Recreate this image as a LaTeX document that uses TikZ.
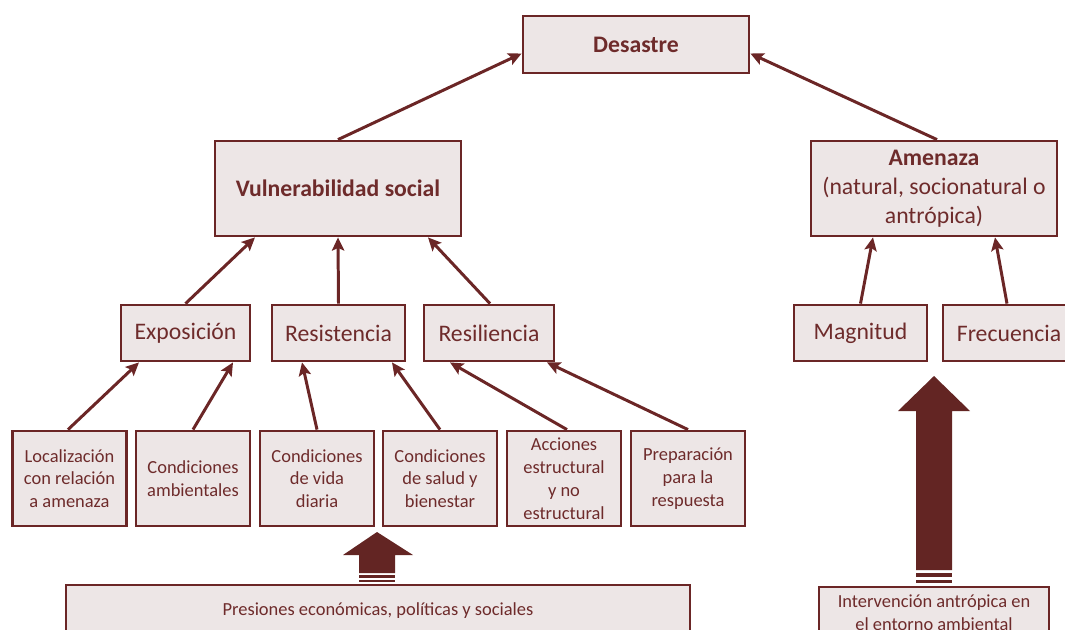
\documentclass[tikz,border=0pt]{standalone}
\usepackage{fontspec}
\setmainfont{Carlito}
\usetikzlibrary{arrows.meta}
\definecolor{wine}{HTML}{6B2626}
\definecolor{winetext}{HTML}{6E2B2B}
\definecolor{bigarrow}{HTML}{632523}
\definecolor{boxfill}{HTML}{EDE6E6}
\newcommand{\pxl}{0.02cm}
\tikzset{
  box/.style={draw=wine, fill=boxfill, line width=1.6pt, inner sep=0pt,
    align=center, text=winetext},
  bigfont/.style={font=\fontsize{13.5}{16.5}\selectfont},
  smallfont/.style={font=\fontsize{10.5}{13}\selectfont},
  link/.style={draw=wine, line width=1.7pt,
    -{Stealth[length=7.5pt, width=7pt, inset=1.5pt]}},
}
\begin{document}
\begin{tikzpicture}[x=0.02cm, y=-0.02cm]
\useasboundingbox (0,0) rectangle (1065,629);
\clip (0,0) rectangle (1065,629);

% top level
\node[box, bigfont, minimum width=226*\pxl, minimum height=57*\pxl] (des) at (636,44.5) {\textbf{Desastre}};
\node[box, bigfont, minimum width=246*\pxl, minimum height=95*\pxl] (vul) at (338,188.5) {\textbf{Vulnerabilidad social}};
\node[box, bigfont, minimum width=246*\pxl, minimum height=95*\pxl] (ame) at (934,188.5)
  {\textbf{Amenaza}\\(natural, socionatural o\\antrópica)};

% middle level
\node[box, bigfont, minimum width=129*\pxl, minimum height=56*\pxl] (exp) at (185.5,333) {Exposición};
\node[box, bigfont, minimum width=133*\pxl, minimum height=56*\pxl] (res) at (338.5,333) {Resistencia};
\node[box, bigfont, minimum width=130*\pxl, minimum height=56*\pxl] (resil) at (489,333) {Resiliencia};
\node[box, bigfont, minimum width=133*\pxl, minimum height=56*\pxl] (mag) at (860.5,333) {Magnitud};
\node[box, bigfont, minimum width=132*\pxl, minimum height=56*\pxl] (fre) at (1009,333) {Frecuencia};

% bottom level
\tikzset{leaf/.style={box, smallfont, minimum width=114*\pxl, minimum height=95*\pxl}}
\node[leaf] (loc) at (69.5,478.5) {Localización\\con relación\\a amenaza};
\node[leaf] (amb) at (193,478.5) {Condiciones\\ambientales};
\node[leaf] (vid) at (317,478.5) {Condiciones\\de vida\\diaria};
\node[leaf] (sal) at (440,478.5) {Condiciones\\de salud y\\bienestar};
\node[leaf] (acc) at (564,478.5) {Acciones\\estructural\\y no\\estructural};
\node[leaf] (pre) at (688,478.5) {Preparación\\para la\\respuesta};

% driving pressures
\node[box, smallfont, minimum width=624*\pxl, minimum height=52*\pxl] (pres) at (378,611) {Presiones económicas, políticas y sociales};
\node[box, smallfont, minimum width=230*\pxl, minimum height=51*\pxl] (int) at (934,612.5) {Intervención antrópica en\\el entorno ambiental};

% connectors
\draw[link] (vul.north) -- ([yshift=-9*\pxl]des.west);
\draw[link] ([xshift=3*\pxl]ame.north) -- ([yshift=-9*\pxl]des.east);
\draw[link] (exp.north) -- ([xshift=-83*\pxl]vul.south);
\draw[link] (res.north) -- (vul.south);
\draw[link] ([xshift=1*\pxl]resil.north) -- ([xshift=90*\pxl]vul.south);
\draw[link] (mag.north) -- ([xshift=-61*\pxl]ame.south);
\draw[link] ([xshift=-2*\pxl]fre.north) -- ([xshift=61*\pxl]ame.south);
\draw[link] ([xshift=-1.5*\pxl]loc.north) -- ([xshift=-46.5*\pxl]exp.south);
\draw[link] (amb.north) -- ([xshift=47.5*\pxl]exp.south);
\draw[link] (vid.north) -- ([xshift=-36.5*\pxl]res.south);
\draw[link] (sal.north) -- ([xshift=53.5*\pxl]res.south);
\draw[link] ([xshift=3*\pxl]acc.north) -- ([xshift=-39*\pxl]resil.south);
\draw[link] (pre.north) -- ([xshift=58*\pxl]resil.south);

% striped block arrows
\fill[bigarrow] (377,532) -- (413,555) -- (395,555) -- (395,573) -- (359,573)
  -- (359,555) -- (343,555) -- cycle;
\fill[bigarrow] (359,575) rectangle (395,577.5);
\fill[bigarrow] (359,579.5) rectangle (395,582);

\fill[bigarrow] (934,376) -- (970,411) -- (952,411) -- (952,570) -- (916,570)
  -- (916,411) -- (898,411) -- cycle;
\fill[bigarrow] (916,573) rectangle (952,577);
\fill[bigarrow] (916,580) rectangle (952,583);
\end{tikzpicture}
\end{document}
